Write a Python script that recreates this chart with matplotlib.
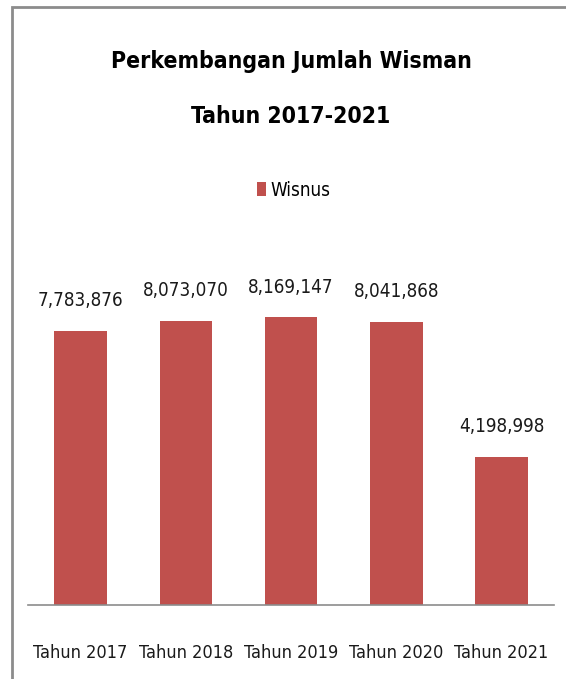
import matplotlib
matplotlib.use("Agg")
from matplotlib import pyplot as plt
from matplotlib.patches import Rectangle

# data
years = ["Tahun 2017", "Tahun 2018", "Tahun 2019", "Tahun 2020", "Tahun 2021"]
wisnus = [7783876, 8073070, 8169147, 8041868, 4198998]
title_lines = ["Perkembangan Jumlah Wisman", "Tahun 2017-2021"]
series_name = "Wisnus"

plt.rcParams['font.family'] = ['DejaVu Sans']
plt.rcParams['font.stretch'] = 'condensed'

W, H = 566, 679
fig = plt.figure(figsize=(W / 100, H / 100), dpi=100)

# chart frame (only top and left visible)
fig.patches.append(Rectangle((12 / W, -0.1), 1.2, (H - 7) / H + 0.1, transform=fig.transFigure,
                             fill=False, edgecolor='#8c8c8c', linewidth=2.0))

ax = fig.add_axes([28 / W, (H - 605) / H, (554 - 28) / W, (605 - 288) / H])
bars = ax.bar(years, wisnus, width=0.5, color='#C0504D', label=series_name)
ax.set_ylim(0, 9000000)
ax.set_xlim(-0.5, len(years) - 0.5)

for b, v in zip(bars, wisnus):
    ax.text(b.get_x() + b.get_width() / 2, v + 700000, f"{v:,}", ha='center', va='baseline',
            fontsize=13.5, color='#1a1a1a')

for s in ['top', 'right', 'left']:
    ax.spines[s].set_visible(False)
ax.spines['bottom'].set_color('#8c8c8c')
ax.spines['bottom'].set_linewidth(1.2)
ax.set_yticks([])
ax.tick_params(axis='x', length=0, pad=38, labelsize=13, labelcolor='#1a1a1a')
for lbl in ax.get_xticklabels():
    lbl.set_verticalalignment('baseline')

# two-line title, baselines placed separately
for line, base_y in zip(title_lines, [68, 123]):
    fig.text(291 / W, 1 - base_y / H, line, ha='center', va='baseline', fontsize=16.5,
             fontweight='bold', color='#000000')

fig.legend(handles=[bars], labels=[series_name], loc='center', bbox_to_anchor=(294 / W, 1 - 190 / H),
           frameon=False, fontsize=13.5, handlelength=0.45, handleheight=0.85, handletextpad=0.25)

fig.savefig("out.png", dpi=100)
